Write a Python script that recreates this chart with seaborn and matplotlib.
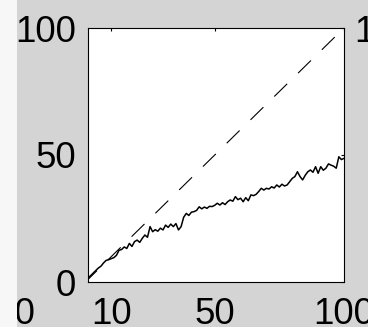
import matplotlib
matplotlib.use("Agg")
import matplotlib.pyplot as plt
from matplotlib.patches import Rectangle
import numpy as np
import pandas as pd
import seaborn as sns

# ---- data ----
x_vals = list(range(1, 101))
solid_y = [1.5, 2.5, 3.5, 4.5, 5.5, 6.2, 7.5, 8.5, 8.8, 9.2,
           9.6, 10.5, 12.5, 12.8, 13.8, 13.2, 15.2, 14.0, 15.9, 16.5,
           15.6, 17.2, 18.5, 17.6, 21.8, 19.8, 20.6, 20.0, 21.2, 20.5,
           22.4, 21.5, 22.8, 21.8, 23.0, 20.5, 21.8, 25.5, 27.0, 26.2,
           27.5, 27.7, 28.2, 29.6, 28.8, 29.5, 29.0, 29.8, 29.7, 30.2,
           31.0, 30.3, 31.2, 30.5, 31.6, 32.3, 31.8, 33.6, 32.4, 33.0,
           31.6, 33.2, 32.0, 34.3, 34.0, 34.5, 35.6, 36.9, 36.2, 36.9,
           36.6, 37.5, 37.0, 38.2, 37.4, 38.5, 37.8, 38.2, 39.5, 40.8,
           41.5, 43.4, 41.5, 40.2, 42.0, 43.4, 44.1, 43.2, 45.4, 42.8,
           45.4, 44.0, 44.8, 46.5, 46.0, 45.6, 44.8, 49.3, 48.2, 48.7]
dashed_x = [1, 100]
dashed_y = [1, 100]
x_ticks = [10, 50, 100]
y_ticks = [0, 50, 100]
x_ticklabels = ["10", "50", "100"]
y_ticklabels = ["0", "50", "100"]

solid_df = pd.DataFrame({"x": x_vals, "y": solid_y})
dashed_df = pd.DataFrame({"x": dashed_x, "y": dashed_y})

# ---- style ----
sns.set_style("white")
plt.rcParams["font.family"] = ["Liberation Sans", "DejaVu Sans"]
plt.rcParams["lines.scale_dashes"] = False

W, H = 368, 327
fig = plt.figure(figsize=(W / 100, H / 100), dpi=100)
bg = "#d4d4d4"
fig.patch.set_facecolor(bg)
ax = fig.add_axes([88 / W, 45 / H, 256 / W, 254 / H])
ax.set_facecolor("white")

sns.lineplot(data=dashed_df, x="x", y="y", ax=ax, color="black",
             linewidth=0.8, linestyle=(4, (13, 11)))
sns.lineplot(data=solid_df, x="x", y="y", ax=ax, color="black",
             linewidth=1.1)

ax.set_xlim(1, 100)
ax.set_ylim(0, 100)
ax.set_xticks(x_ticks)
ax.set_xticklabels(x_ticklabels)
ax.set_yticks(y_ticks)
ax.set_yticklabels(y_ticklabels)
ax.set_xlabel("")
ax.set_ylabel("")

fs = 26.5
ax.tick_params(axis="both", direction="in", length=2.5, width=0.8,
               colors="black", labelsize=fs, top=True, right=True)
ax.tick_params(axis="x", pad=11)
ax.tick_params(axis="y", pad=8.5)
for s in ax.spines.values():
    s.set_visible(True)
    s.set_color("black")
    s.set_linewidth(0.8)

# neighbouring panels' tick labels (cropped)
fig.text(354 / W, 1 - 28 / H, "100", fontsize=fs, ha="left",
         va="center_baseline", color="black")
fig.text(35 / W, 1 - 297 / H, "100", fontsize=fs, ha="right",
         va="top", color="black")

# white strip at left edge
fig.add_artist(Rectangle((0, 0), 17 / W, 1, transform=fig.transFigure,
                         facecolor="#f7f7f7", edgecolor="none", zorder=10))

fig.savefig("out.png", dpi=100, facecolor=fig.get_facecolor())
